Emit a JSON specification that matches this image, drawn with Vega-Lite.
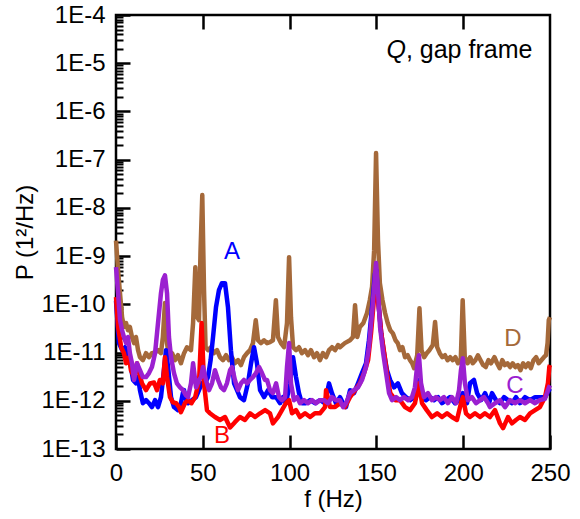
{
"$schema": "https://vega.github.io/schema/vega-lite/v6.json",
"width": 434, "height": 434,
"autosize": {"type": "none"},
"padding": {"left": 116, "top": 15, "right": 30, "bottom": 70},
"background": "white",
"config": {
 "view": {"stroke": "#000", "strokeWidth": 2.5},
 "axis": {"grid": false, "domain": false, "labelFont": "Liberation Sans", "titleFont": "Liberation Sans", "labelColor": "#000", "titleColor": "#000", "labelFontSize": 24, "titleFontSize": 24, "titleFontWeight": "normal"}
},
"data": {"values": [
{"series":"D","f":0,"P":2.1e-9},{"series":"D","f":1.2,"P":5.0e-10},{"series":"D","f":2.3,"P":1.7e-10},{"series":"D","f":3.5,"P":5.4e-11},{"series":"D","f":4.6,"P":3.4e-11},{"series":"D","f":5.8,"P":4.1e-11},{"series":"D","f":6.9,"P":2.9e-11},{"series":"D","f":8,"P":3.4e-11},{"series":"D","f":9.2,"P":2.1e-11},{"series":"D","f":10.4,"P":1.57e-11},{"series":"D","f":11.5,"P":2.1e-11},{"series":"D","f":12.7,"P":1.12e-11},{"series":"D","f":13.8,"P":8.0e-12},{"series":"D","f":15.5,"P":6.95e-12},{"series":"D","f":17.3,"P":9.7e-12},{"series":"D","f":19,"P":8.0e-12},{"series":"D","f":20.7,"P":9.7e-12},{"series":"D","f":22.5,"P":1.0e-11},{"series":"D","f":24.2,"P":1.12e-11},{"series":"D","f":25.9,"P":9.7e-12},{"series":"D","f":27,"P":2.1e-11},{"series":"D","f":28.2,"P":1.06e-10},{"series":"D","f":29.4,"P":1.57e-11},{"series":"D","f":30.5,"P":8.0e-12},{"series":"D","f":32.3,"P":9.7e-12},{"series":"D","f":34,"P":6.95e-12},{"series":"D","f":35.7,"P":8.8e-12},{"series":"D","f":37.4,"P":6.0e-12},{"series":"D","f":39.2,"P":9.7e-12},{"series":"D","f":40.9,"P":1.29e-11},{"series":"D","f":43.2,"P":1.12e-11},{"series":"D","f":44.4,"P":4.1e-11},{"series":"D","f":45.7,"P":5.9e-10},{"series":"D","f":46.8,"P":5.4e-11},{"series":"D","f":47.8,"P":4.7e-11},{"series":"D","f":48.7,"P":1.33e-9},{"series":"D","f":49.7,"P":1.85e-8},{"series":"D","f":50.7,"P":1.97e-10},{"series":"D","f":51.6,"P":1.29e-11},{"series":"D","f":53,"P":1.12e-11},{"series":"D","f":54.7,"P":1.29e-11},{"series":"D","f":56.4,"P":9.7e-12},{"series":"D","f":58.2,"P":1.12e-11},{"series":"D","f":59.9,"P":8.0e-12},{"series":"D","f":61.6,"P":6.95e-12},{"series":"D","f":63.4,"P":8.8e-12},{"series":"D","f":65.1,"P":6.95e-12},{"series":"D","f":66.8,"P":8.0e-12},{"series":"D","f":68.5,"P":6.0e-12},{"series":"D","f":70.3,"P":6.95e-12},{"series":"D","f":72,"P":5.5e-12},{"series":"D","f":73.7,"P":8.0e-12},{"series":"D","f":75.5,"P":9.7e-12},{"series":"D","f":77.2,"P":1.12e-11},{"series":"D","f":78.9,"P":1.57e-11},{"series":"D","f":80.5,"P":4.7e-11},{"series":"D","f":81.8,"P":1.8e-11},{"series":"D","f":83.5,"P":1.57e-11},{"series":"D","f":85.3,"P":1.8e-11},{"series":"D","f":87,"P":1.57e-11},{"series":"D","f":88.7,"P":1.65e-11},{"series":"D","f":90.4,"P":1.8e-11},{"series":"D","f":92.1,"P":1.22e-10},{"series":"D","f":93.3,"P":2.1e-11},{"series":"D","f":95,"P":1.57e-11},{"series":"D","f":96.8,"P":1.29e-11},{"series":"D","f":98.5,"P":4.1e-11},{"series":"D","f":99.7,"P":9.5e-10},{"series":"D","f":100.8,"P":5.4e-11},{"series":"D","f":102,"P":1.29e-11},{"series":"D","f":103.7,"P":1.12e-11},{"series":"D","f":105.4,"P":1.29e-11},{"series":"D","f":107.1,"P":9.7e-12},{"series":"D","f":108.9,"P":1.12e-11},{"series":"D","f":110.6,"P":8.8e-12},{"series":"D","f":112.3,"P":1.12e-11},{"series":"D","f":114.1,"P":8.0e-12},{"series":"D","f":115.8,"P":9.7e-12},{"series":"D","f":117.5,"P":6.95e-12},{"series":"D","f":119.2,"P":9.7e-12},{"series":"D","f":121,"P":8.0e-12},{"series":"D","f":122.7,"P":1.12e-11},{"series":"D","f":124.4,"P":1.29e-11},{"series":"D","f":126.2,"P":1.12e-11},{"series":"D","f":127.9,"P":1.43e-11},{"series":"D","f":129,"P":1.29e-11},{"series":"D","f":131.8,"P":1.57e-11},{"series":"D","f":134.8,"P":1.8e-11},{"series":"D","f":136.5,"P":2.1e-11},{"series":"D","f":137.7,"P":9.6e-11},{"series":"D","f":139,"P":2.1e-11},{"series":"D","f":140.5,"P":3.4e-11},{"series":"D","f":142.5,"P":4.1e-11},{"series":"D","f":144.6,"P":6.6e-11},{"series":"D","f":146.2,"P":1.22e-10},{"series":"D","f":147.5,"P":2.3e-10},{"series":"D","f":148.7,"P":1.33e-9},{"series":"D","f":149.8,"P":1.37e-7},{"series":"D","f":150.9,"P":2.15e-9},{"series":"D","f":152,"P":2.75e-10},{"series":"D","f":153.5,"P":1.22e-10},{"series":"D","f":155,"P":6.6e-11},{"series":"D","f":156.5,"P":4.1e-11},{"series":"D","f":158,"P":2.9e-11},{"series":"D","f":159.5,"P":2.5e-11},{"series":"D","f":161,"P":1.8e-11},{"series":"D","f":162.3,"P":1.57e-11},{"series":"D","f":163.6,"P":1.12e-11},{"series":"D","f":165,"P":1.29e-11},{"series":"D","f":166.5,"P":8.0e-12},{"series":"D","f":168,"P":8.8e-12},{"series":"D","f":169.4,"P":6.95e-12},{"series":"D","f":170.6,"P":6.0e-12},{"series":"D","f":171.7,"P":4.75e-12},{"series":"D","f":173.5,"P":8.8e-12},{"series":"D","f":174.8,"P":8.3e-11},{"series":"D","f":176,"P":1.12e-11},{"series":"D","f":177.5,"P":8.0e-12},{"series":"D","f":179,"P":9.7e-12},{"series":"D","f":180.5,"P":1.12e-11},{"series":"D","f":182.5,"P":1.43e-11},{"series":"D","f":183.8,"P":4.3e-11},{"series":"D","f":185,"P":1.29e-11},{"series":"D","f":186.5,"P":9.7e-12},{"series":"D","f":188,"P":8.0e-12},{"series":"D","f":189.5,"P":8.8e-12},{"series":"D","f":191,"P":6.95e-12},{"series":"D","f":192.5,"P":8.0e-12},{"series":"D","f":194,"P":6.95e-12},{"series":"D","f":195.5,"P":8.0e-12},{"series":"D","f":197,"P":6.0e-12},{"series":"D","f":198.6,"P":6.95e-12},{"series":"D","f":199.7,"P":1.22e-10},{"series":"D","f":200.9,"P":8.0e-12},{"series":"D","f":202.5,"P":6.0e-12},{"series":"D","f":204,"P":8.0e-12},{"series":"D","f":205.5,"P":6.0e-12},{"series":"D","f":207,"P":6.95e-12},{"series":"D","f":208.5,"P":8.8e-12},{"series":"D","f":210,"P":6.95e-12},{"series":"D","f":211.5,"P":5.5e-12},{"series":"D","f":213,"P":5.0e-12},{"series":"D","f":214.5,"P":6.95e-12},{"series":"D","f":216,"P":6.0e-12},{"series":"D","f":218,"P":8.0e-12},{"series":"D","f":219.5,"P":6.0e-12},{"series":"D","f":221,"P":4.75e-12},{"series":"D","f":222.5,"P":6.95e-12},{"series":"D","f":224,"P":5.5e-12},{"series":"D","f":225.5,"P":6.0e-12},{"series":"D","f":227,"P":5.0e-12},{"series":"D","f":228.5,"P":6.0e-12},{"series":"D","f":230,"P":5.0e-12},{"series":"D","f":231.5,"P":5.5e-12},{"series":"D","f":233,"P":4.3e-12},{"series":"D","f":234.5,"P":6.0e-12},{"series":"D","f":236,"P":5.0e-12},{"series":"D","f":237.5,"P":6.0e-12},{"series":"D","f":239,"P":4.75e-12},{"series":"D","f":240.5,"P":6.95e-12},{"series":"D","f":242,"P":8.0e-12},{"series":"D","f":243.5,"P":6.0e-12},{"series":"D","f":245,"P":6.95e-12},{"series":"D","f":246.5,"P":8.0e-12},{"series":"D","f":247.7,"P":8.8e-12},{"series":"D","f":248.6,"P":1.57e-11},{"series":"D","f":249.3,"P":4.7e-11},{"series":"D","f":250,"P":5.4e-11},
{"series":"A","f":0,"P":1.2e-10},{"series":"A","f":1.7,"P":1.57e-11},{"series":"A","f":3.5,"P":1.12e-11},{"series":"A","f":5.2,"P":1.29e-11},{"series":"A","f":6.3,"P":9.7e-12},{"series":"A","f":8,"P":6.95e-12},{"series":"A","f":9.8,"P":2.7e-12},{"series":"A","f":11.5,"P":2.3e-12},{"series":"A","f":12.7,"P":3.1e-12},{"series":"A","f":13.8,"P":1.66e-12},{"series":"A","f":15.5,"P":8.9e-13},{"series":"A","f":17.3,"P":1.03e-12},{"series":"A","f":19,"P":8.9e-13},{"series":"A","f":20.7,"P":7.4e-13},{"series":"A","f":22.5,"P":1.03e-12},{"series":"A","f":24.2,"P":7.4e-13},{"series":"A","f":25.9,"P":1.19e-12},{"series":"A","f":27.6,"P":4.3e-12},{"series":"A","f":28.8,"P":1.12e-11},{"series":"A","f":30,"P":5.0e-12},{"series":"A","f":31.7,"P":1.19e-12},{"series":"A","f":33.4,"P":7.4e-13},{"series":"A","f":35.7,"P":6.4e-13},{"series":"A","f":37.4,"P":8.9e-13},{"series":"A","f":38.5,"P":1.44e-12},{"series":"A","f":39.2,"P":1.66e-12},{"series":"A","f":40.5,"P":1.03e-12},{"series":"A","f":41.5,"P":8.9e-13},{"series":"A","f":43.8,"P":1.03e-12},{"series":"A","f":46.1,"P":1.19e-12},{"series":"A","f":47.8,"P":1.66e-12},{"series":"A","f":49.5,"P":2.3e-12},{"series":"A","f":51.3,"P":2.3e-12},{"series":"A","f":53,"P":3.1e-12},{"series":"A","f":54.5,"P":6.95e-12},{"series":"A","f":55.9,"P":2.1e-11},{"series":"A","f":57.6,"P":8.75e-11},{"series":"A","f":59.3,"P":1.97e-10},{"series":"A","f":61,"P":2.75e-10},{"series":"A","f":62.8,"P":2.75e-10},{"series":"A","f":64.5,"P":8.75e-11},{"series":"A","f":66.2,"P":1.12e-11},{"series":"A","f":68,"P":2.3e-12},{"series":"A","f":69.7,"P":1.66e-12},{"series":"A","f":71.4,"P":1.19e-12},{"series":"A","f":73.7,"P":1.03e-12},{"series":"A","f":76,"P":2.3e-12},{"series":"A","f":77.8,"P":6.0e-12},{"series":"A","f":79.5,"P":1.29e-11},{"series":"A","f":81.2,"P":6.0e-12},{"series":"A","f":83,"P":1.66e-12},{"series":"A","f":85.3,"P":1.19e-12},{"series":"A","f":87.6,"P":1.66e-12},{"series":"A","f":89.9,"P":1.19e-12},{"series":"A","f":92.2,"P":1.19e-12},{"series":"A","f":94.5,"P":8.9e-13},{"series":"A","f":96.2,"P":1.19e-12},{"series":"A","f":97.9,"P":8.9e-13},{"series":"A","f":100.2,"P":2.3e-12},{"series":"A","f":102,"P":8.0e-12},{"series":"A","f":103.7,"P":3.1e-12},{"series":"A","f":105.4,"P":1.44e-12},{"series":"A","f":107.1,"P":8.9e-13},{"series":"A","f":109.4,"P":8.9e-13},{"series":"A","f":111.8,"P":1.03e-12},{"series":"A","f":114.6,"P":8.9e-13},{"series":"A","f":117.5,"P":1.03e-12},{"series":"A","f":120.4,"P":8.9e-13},{"series":"A","f":122.7,"P":2.3e-12},{"series":"A","f":124.4,"P":1.44e-12},{"series":"A","f":126.7,"P":8.9e-13},{"series":"A","f":129,"P":1.19e-12},{"series":"A","f":130.8,"P":8.9e-13},{"series":"A","f":132.5,"P":7.4e-13},{"series":"A","f":134.8,"P":1.66e-12},{"series":"A","f":137.1,"P":1.44e-12},{"series":"A","f":139.4,"P":2.3e-12},{"series":"A","f":141.7,"P":3.75e-12},{"series":"A","f":144,"P":6.0e-12},{"series":"A","f":145.7,"P":1.8e-11},{"series":"A","f":147.5,"P":8.75e-11},{"series":"A","f":149.2,"P":4.4e-10},{"series":"A","f":150,"P":5.1e-10},{"series":"A","f":151,"P":1.22e-10},{"series":"A","f":152.8,"P":2.5e-11},{"series":"A","f":154.4,"P":9.7e-12},{"series":"A","f":156.1,"P":4.3e-12},{"series":"A","f":157.9,"P":2.7e-12},{"series":"A","f":160.2,"P":1.9e-12},{"series":"A","f":162.4,"P":2.3e-12},{"series":"A","f":164.7,"P":1.44e-12},{"series":"A","f":167,"P":1.19e-12},{"series":"A","f":169.4,"P":1.03e-12},{"series":"A","f":171.7,"P":1.19e-12},{"series":"A","f":172.8,"P":1.19e-12},{"series":"A","f":174.5,"P":2.7e-12},{"series":"A","f":176.3,"P":1.19e-12},{"series":"A","f":178.6,"P":1.03e-12},{"series":"A","f":180.9,"P":1.19e-12},{"series":"A","f":183.2,"P":1.03e-12},{"series":"A","f":185.5,"P":1.19e-12},{"series":"A","f":187.8,"P":8.9e-13},{"series":"A","f":190.1,"P":1.03e-12},{"series":"A","f":192.4,"P":1.19e-12},{"series":"A","f":195.3,"P":8.9e-13},{"series":"A","f":197.6,"P":1.03e-12},{"series":"A","f":199.8,"P":1.44e-12},{"series":"A","f":202.2,"P":8.9e-13},{"series":"A","f":203.9,"P":2.3e-12},{"series":"A","f":206.2,"P":2.7e-12},{"series":"A","f":208,"P":1.44e-12},{"series":"A","f":210.3,"P":1.03e-12},{"series":"A","f":212.6,"P":1.44e-12},{"series":"A","f":214.9,"P":8.9e-13},{"series":"A","f":216.6,"P":1.44e-12},{"series":"A","f":218.9,"P":1.03e-12},{"series":"A","f":221.2,"P":8.9e-13},{"series":"A","f":223.5,"P":1.19e-12},{"series":"A","f":225.8,"P":1.03e-12},{"series":"A","f":228.1,"P":8.9e-13},{"series":"A","f":230.4,"P":1.19e-12},{"series":"A","f":232.7,"P":8.9e-13},{"series":"A","f":235.6,"P":1.19e-12},{"series":"A","f":238.5,"P":1.03e-12},{"series":"A","f":241.4,"P":1.19e-12},{"series":"A","f":244.2,"P":1.19e-12},{"series":"A","f":247.1,"P":1.19e-12},{"series":"A","f":249.4,"P":1.66e-12},{"series":"A","f":250,"P":1.8e-12},
{"series":"B","f":0,"P":1.41e-10},{"series":"B","f":1.2,"P":3.4e-11},{"series":"B","f":3,"P":1.29e-11},{"series":"B","f":4.6,"P":9.7e-12},{"series":"B","f":5.8,"P":6.0e-12},{"series":"B","f":7.5,"P":8.0e-12},{"series":"B","f":8.6,"P":4.3e-12},{"series":"B","f":10.4,"P":3.1e-12},{"series":"B","f":12.1,"P":6.0e-12},{"series":"B","f":13.2,"P":3.9e-12},{"series":"B","f":15,"P":2.3e-12},{"series":"B","f":17.3,"P":1.66e-12},{"series":"B","f":19.6,"P":2.3e-12},{"series":"B","f":21.9,"P":2.4e-12},{"series":"B","f":23.6,"P":1.66e-12},{"series":"B","f":25.3,"P":2.7e-12},{"series":"B","f":27,"P":2.3e-12},{"series":"B","f":28.2,"P":8.0e-12},{"series":"B","f":29.4,"P":3.1e-12},{"series":"B","f":31.1,"P":1.19e-12},{"series":"B","f":32.8,"P":9.3e-13},{"series":"B","f":34.6,"P":8.9e-13},{"series":"B","f":36.3,"P":7.4e-13},{"series":"B","f":37.4,"P":5.8e-13},{"series":"B","f":39.7,"P":8.9e-13},{"series":"B","f":41.5,"P":1.03e-12},{"series":"B","f":43.5,"P":8.9e-13},{"series":"B","f":45.6,"P":1.19e-12},{"series":"B","f":47.9,"P":2.7e-12},{"series":"B","f":49.3,"P":4.1e-11},{"series":"B","f":50.7,"P":2.3e-12},{"series":"B","f":52.4,"P":6.4e-13},{"series":"B","f":54.1,"P":5.5e-13},{"series":"B","f":57,"P":4.6e-13},{"series":"B","f":59.9,"P":4.0e-13},{"series":"B","f":62.8,"P":4.6e-13},{"series":"B","f":65.7,"P":2.8e-13},{"series":"B","f":68.5,"P":3.6e-13},{"series":"B","f":71.4,"P":4.6e-13},{"series":"B","f":74.3,"P":4.0e-13},{"series":"B","f":77.2,"P":5.5e-13},{"series":"B","f":80.1,"P":4.6e-13},{"series":"B","f":83,"P":5.5e-13},{"series":"B","f":85.9,"P":6.4e-13},{"series":"B","f":88.7,"P":5.5e-13},{"series":"B","f":90.4,"P":3.4e-13},{"series":"B","f":93.3,"P":4.6e-13},{"series":"B","f":95.6,"P":6.4e-13},{"series":"B","f":97.9,"P":8.9e-13},{"series":"B","f":99.7,"P":1.03e-12},{"series":"B","f":101.4,"P":5.5e-13},{"series":"B","f":103.7,"P":6.4e-13},{"series":"B","f":106,"P":4.6e-13},{"series":"B","f":108.9,"P":5.5e-13},{"series":"B","f":111.8,"P":4.6e-13},{"series":"B","f":114.6,"P":5.5e-13},{"series":"B","f":117.5,"P":5.5e-13},{"series":"B","f":120.4,"P":7.4e-13},{"series":"B","f":121,"P":1.66e-12},{"series":"B","f":123.3,"P":7.4e-13},{"series":"B","f":126.2,"P":7.4e-13},{"series":"B","f":129,"P":8.9e-13},{"series":"B","f":131.8,"P":7.4e-13},{"series":"B","f":134.8,"P":1.19e-12},{"series":"B","f":137.7,"P":1.66e-12},{"series":"B","f":140.5,"P":2.3e-12},{"series":"B","f":142.9,"P":3.75e-12},{"series":"B","f":145.2,"P":6.95e-12},{"series":"B","f":146.9,"P":2.5e-11},{"series":"B","f":148.7,"P":1.41e-10},{"series":"B","f":149.8,"P":4.4e-10},{"series":"B","f":151,"P":1.22e-10},{"series":"B","f":152.8,"P":2.5e-11},{"series":"B","f":154.5,"P":9.7e-12},{"series":"B","f":156.1,"P":3.75e-12},{"series":"B","f":158,"P":1.44e-12},{"series":"B","f":161,"P":1.03e-12},{"series":"B","f":163.6,"P":1.03e-12},{"series":"B","f":166.5,"P":7.4e-13},{"series":"B","f":169.4,"P":6.4e-13},{"series":"B","f":172.2,"P":8.9e-13},{"series":"B","f":174.5,"P":2.3e-12},{"series":"B","f":176.3,"P":8.9e-13},{"series":"B","f":179,"P":6.4e-13},{"series":"B","f":182,"P":4.6e-13},{"series":"B","f":185,"P":5.5e-13},{"series":"B","f":187.8,"P":4.6e-13},{"series":"B","f":190.7,"P":5.5e-13},{"series":"B","f":193.5,"P":4.6e-13},{"series":"B","f":196.4,"P":4.0e-13},{"series":"B","f":198.7,"P":8.9e-13},{"series":"B","f":199.8,"P":1.19e-12},{"series":"B","f":201.6,"P":5.5e-13},{"series":"B","f":203.9,"P":4.6e-13},{"series":"B","f":206.8,"P":5.5e-13},{"series":"B","f":209.7,"P":4.6e-13},{"series":"B","f":212.5,"P":5.5e-13},{"series":"B","f":215.4,"P":4.6e-13},{"series":"B","f":218.3,"P":6.4e-13},{"series":"B","f":221.2,"P":3.4e-13},{"series":"B","f":223,"P":2.7e-13},{"series":"B","f":225.8,"P":4.6e-13},{"series":"B","f":228.1,"P":3.4e-13},{"series":"B","f":230.4,"P":4.0e-13},{"series":"B","f":232.7,"P":4.6e-13},{"series":"B","f":235.6,"P":4.0e-13},{"series":"B","f":238.5,"P":5.5e-13},{"series":"B","f":241.4,"P":6.4e-13},{"series":"B","f":244.2,"P":7.4e-13},{"series":"B","f":247.1,"P":1.19e-12},{"series":"B","f":248.8,"P":2.3e-12},{"series":"B","f":249.6,"P":5.0e-12},{"series":"B","f":250,"P":5.5e-12},
{"series":"C","f":0,"P":5.9e-10},{"series":"C","f":1.2,"P":1.7e-10},{"series":"C","f":2.3,"P":4.7e-11},{"series":"C","f":3.5,"P":2.9e-11},{"series":"C","f":4.6,"P":2.1e-11},{"series":"C","f":5.8,"P":1.57e-11},{"series":"C","f":6.9,"P":2.1e-11},{"series":"C","f":8,"P":9.7e-12},{"series":"C","f":9.2,"P":6.0e-12},{"series":"C","f":10.4,"P":2.7e-12},{"series":"C","f":12.1,"P":6.0e-12},{"series":"C","f":13.8,"P":4.3e-12},{"series":"C","f":15.5,"P":3.1e-12},{"series":"C","f":17.3,"P":3.1e-12},{"series":"C","f":19,"P":3.75e-12},{"series":"C","f":20.7,"P":5.0e-12},{"series":"C","f":22.5,"P":9.7e-12},{"series":"C","f":24.2,"P":4.1e-11},{"series":"C","f":25.9,"P":1.7e-10},{"series":"C","f":27,"P":3.2e-10},{"series":"C","f":28.2,"P":4.0e-10},{"series":"C","f":29.4,"P":1.7e-10},{"series":"C","f":30.5,"P":2.1e-11},{"series":"C","f":31.7,"P":8.0e-12},{"series":"C","f":33.4,"P":3.75e-12},{"series":"C","f":35.1,"P":2.3e-12},{"series":"C","f":36.9,"P":1.9e-12},{"series":"C","f":38.6,"P":1.66e-12},{"series":"C","f":40.3,"P":1.3e-12},{"series":"C","f":41.5,"P":1.19e-12},{"series":"C","f":43.2,"P":2.3e-12},{"series":"C","f":44.4,"P":6.0e-12},{"series":"C","f":46.1,"P":1.9e-12},{"series":"C","f":47.8,"P":2.7e-12},{"series":"C","f":49,"P":3.1e-12},{"series":"C","f":50.1,"P":5.0e-12},{"series":"C","f":51.8,"P":2.7e-12},{"series":"C","f":53.6,"P":1.66e-12},{"series":"C","f":55.3,"P":2.3e-12},{"series":"C","f":57,"P":4.3e-12},{"series":"C","f":58.8,"P":2.7e-12},{"series":"C","f":60.5,"P":1.9e-12},{"series":"C","f":62.2,"P":1.66e-12},{"series":"C","f":63.9,"P":2.3e-12},{"series":"C","f":65.7,"P":4.3e-12},{"series":"C","f":66.8,"P":5.0e-12},{"series":"C","f":68.5,"P":2.7e-12},{"series":"C","f":70.3,"P":1.66e-12},{"series":"C","f":72,"P":2.3e-12},{"series":"C","f":73.7,"P":2.7e-12},{"series":"C","f":75.5,"P":2.3e-12},{"series":"C","f":77.2,"P":2.7e-12},{"series":"C","f":78.9,"P":3.1e-12},{"series":"C","f":80.6,"P":3.75e-12},{"series":"C","f":82.4,"P":5.0e-12},{"series":"C","f":84.1,"P":3.75e-12},{"series":"C","f":85.8,"P":2.7e-12},{"series":"C","f":87,"P":2.7e-12},{"series":"C","f":88.7,"P":1.66e-12},{"series":"C","f":90.4,"P":1.44e-12},{"series":"C","f":92.2,"P":2.3e-12},{"series":"C","f":93.9,"P":1.19e-12},{"series":"C","f":95.6,"P":1.03e-12},{"series":"C","f":97.4,"P":1.19e-12},{"series":"C","f":98.5,"P":5.0e-12},{"series":"C","f":99.7,"P":1.57e-11},{"series":"C","f":100.8,"P":2.3e-12},{"series":"C","f":102.5,"P":1.03e-12},{"series":"C","f":104.3,"P":1.19e-12},{"series":"C","f":106,"P":8.9e-13},{"series":"C","f":108.3,"P":1.03e-12},{"series":"C","f":110.6,"P":8.9e-13},{"series":"C","f":112.9,"P":1.03e-12},{"series":"C","f":115.2,"P":8.9e-13},{"series":"C","f":117.5,"P":1.03e-12},{"series":"C","f":119.8,"P":1.03e-12},{"series":"C","f":122.1,"P":8.9e-13},{"series":"C","f":124.4,"P":1.19e-12},{"series":"C","f":126.7,"P":1.03e-12},{"series":"C","f":129,"P":1.03e-12},{"series":"C","f":130.8,"P":7.4e-13},{"series":"C","f":132.5,"P":8.9e-13},{"series":"C","f":134.8,"P":1.44e-12},{"series":"C","f":137.1,"P":1.66e-12},{"series":"C","f":139.4,"P":1.9e-12},{"series":"C","f":141.7,"P":2.7e-12},{"series":"C","f":144,"P":5.0e-12},{"series":"C","f":145.7,"P":1.29e-11},{"series":"C","f":147.5,"P":6.6e-11},{"series":"C","f":148.7,"P":2.3e-10},{"series":"C","f":149.8,"P":7.2e-10},{"series":"C","f":151,"P":1.7e-10},{"series":"C","f":152.1,"P":3.4e-11},{"series":"C","f":153.9,"P":9.7e-12},{"series":"C","f":155.6,"P":3.75e-12},{"series":"C","f":157.3,"P":1.44e-12},{"series":"C","f":159,"P":1.03e-12},{"series":"C","f":161.3,"P":1.19e-12},{"series":"C","f":163.6,"P":1.03e-12},{"series":"C","f":165.9,"P":1.19e-12},{"series":"C","f":168.2,"P":1.03e-12},{"series":"C","f":170.5,"P":1.19e-12},{"series":"C","f":172.2,"P":1.9e-12},{"series":"C","f":173.4,"P":5.0e-12},{"series":"C","f":174.5,"P":8.8e-12},{"series":"C","f":175.7,"P":2.3e-12},{"series":"C","f":177.4,"P":1.19e-12},{"series":"C","f":179.7,"P":1.44e-12},{"series":"C","f":182,"P":1.03e-12},{"series":"C","f":184.3,"P":1.19e-12},{"series":"C","f":186.6,"P":1.03e-12},{"series":"C","f":188.9,"P":1.19e-12},{"series":"C","f":191.2,"P":8.9e-13},{"series":"C","f":193.5,"P":1.19e-12},{"series":"C","f":195.9,"P":8.9e-13},{"series":"C","f":197.6,"P":1.66e-12},{"series":"C","f":198.7,"P":4.3e-12},{"series":"C","f":199.8,"P":7.65e-12},{"series":"C","f":201,"P":2.3e-12},{"series":"C","f":202.7,"P":1.03e-12},{"series":"C","f":205,"P":1.19e-12},{"series":"C","f":207.4,"P":8.9e-13},{"series":"C","f":209.7,"P":1.03e-12},{"series":"C","f":212,"P":1.19e-12},{"series":"C","f":214.3,"P":8.9e-13},{"series":"C","f":215.4,"P":7.4e-13},{"series":"C","f":218.3,"P":8.9e-13},{"series":"C","f":221.2,"P":1.03e-12},{"series":"C","f":224.1,"P":7.4e-13},{"series":"C","f":227,"P":1.03e-12},{"series":"C","f":229.8,"P":8.9e-13},{"series":"C","f":232.7,"P":1.03e-12},{"series":"C","f":235.6,"P":8.9e-13},{"series":"C","f":238.5,"P":1.03e-12},{"series":"C","f":241.4,"P":8.9e-13},{"series":"C","f":244.2,"P":1.03e-12},{"series":"C","f":247.1,"P":1.1e-12},{"series":"C","f":249.4,"P":1.9e-12},{"series":"C","f":250,"P":2.1e-12}
]},
"encoding": {
 "x": {"field": "f", "type": "quantitative", "scale": {"domain": [0, 250], "nice": false, "zero": false}, "axis": null},
 "y": {"field": "P", "type": "quantitative", "scale": {"type": "log", "domain": [1e-13, 1e-4], "nice": false}, "axis": null}
},
"layer": [
 {"transform": [{"filter": "datum.series === 'D'"}],
  "mark": {"type": "line", "strokeWidth": 4.5, "strokeJoin": "round", "color": "#a5693a"},
  "encoding": {
   "x": {"field": "f", "type": "quantitative", "scale": {"domain": [0, 250], "nice": false, "zero": false},
    "axis": {"orient": "bottom", "values": [0,50,100,150,200,250], "tickSize": -14, "tickWidth": 2.5, "tickColor": "#000", "labelPadding": 26, "labelFlush": false,
     "title": "f (Hz)", "titlePadding": 2}},
   "y": {"field": "P", "type": "quantitative", "scale": {"type": "log", "domain": [1e-13, 1e-4], "nice": false},
    "axis": {"orient": "left", "values": [1e-13,1e-12,1e-11,1e-10,1e-9,1e-8,1e-7,1e-6,1e-5,1e-4],
     "labelExpr": "'1E' + round(log(datum.value)/LN10)", "labelPadding": 25,
     "tickSize": -14, "tickWidth": 2.5, "tickColor": "#000",
     "title": "P (1²/Hz)", "titlePadding": 3}}
  }},
 {"transform": [{"filter": "datum.series === 'A'"}],
  "mark": {"type": "line", "strokeWidth": 4.5, "strokeJoin": "round", "color": "#0000ff"},
  "encoding": {
   "y": {"field": "P", "type": "quantitative", "scale": {"type": "log", "domain": [1e-13, 1e-4], "nice": false},
    "axis": {"orient": "left", "labels": false, "title": null, "tickSize": -7, "tickWidth": 2, "tickColor": "#000",
     "values": [2e-13,3e-13,4e-13,5e-13,6e-13,7e-13,8e-13,9e-13,2e-12,3e-12,4e-12,5e-12,6e-12,7e-12,8e-12,9e-12,2e-11,3e-11,4e-11,5e-11,6e-11,7e-11,8e-11,9e-11,2e-10,3e-10,4e-10,5e-10,6e-10,7e-10,8e-10,9e-10,2e-9,3e-9,4e-9,5e-9,6e-9,7e-9,8e-9,9e-9,2e-8,3e-8,4e-8,5e-8,6e-8,7e-8,8e-8,9e-8,2e-7,3e-7,4e-7,5e-7,6e-7,7e-7,8e-7,9e-7,2e-6,3e-6,4e-6,5e-6,6e-6,7e-6,8e-6,9e-6,2e-5,3e-5,4e-5,5e-5,6e-5,7e-5,8e-5,9e-5]}}
  }},
 {"transform": [{"filter": "datum.series === 'B'"}],
  "mark": {"type": "line", "strokeWidth": 4.5, "strokeJoin": "round", "color": "#ff0000"}},
 {"transform": [{"filter": "datum.series === 'C'"}],
  "mark": {"type": "line", "strokeWidth": 4.5, "strokeJoin": "round", "color": "#9b20d0"},
  "encoding": {
   "x": {"field": "f", "type": "quantitative", "scale": {"domain": [0, 250], "nice": false, "zero": false},
    "axis": {"orient": "top", "values": [50,100,150,200], "labels": false, "tickSize": -14, "tickWidth": 2.5, "tickColor": "#000", "title": null}}
  }},
 {"data": {"values": [{"label":"A","f":66.8,"P":1.2e-9}]},
  "mark": {"type": "text", "fontSize": 24, "align": "center", "baseline": "middle", "font": "Liberation Sans", "color": "#0000ff"},
  "encoding": {"text": {"field": "label"}}},
 {"data": {"values": [{"label":"B","f":61,"P":1.86e-13}]},
  "mark": {"type": "text", "fontSize": 24, "align": "center", "baseline": "middle", "font": "Liberation Sans", "color": "#ff0000"},
  "encoding": {"text": {"field": "label"}}},
 {"data": {"values": [{"label":"C","f":229.8,"P":2.0e-12}]},
  "mark": {"type": "text", "fontSize": 24, "align": "center", "baseline": "middle", "font": "Liberation Sans", "color": "#9b20d0"},
  "encoding": {"text": {"field": "label"}}},
 {"data": {"values": [{"label":"D","f":228.7,"P":1.9e-11}]},
  "mark": {"type": "text", "fontSize": 24, "align": "center", "baseline": "middle", "font": "Liberation Sans", "color": "#a5693a"},
  "encoding": {"text": {"field": "label"}}},
 {"data": {"values": [{"part":"Q","f":167,"P":1.28e-5}]},
  "mark": {"type": "text", "fontSize": 25, "align": "right", "baseline": "alphabetic", "fontStyle": "italic", "font": "Liberation Sans", "color": "#000"},
  "encoding": {"text": {"field": "part"}}},
 {"data": {"values": [{"part":", gap frame","f":167,"P":1.28e-5}]},
  "mark": {"type": "text", "fontSize": 25, "align": "left", "baseline": "alphabetic", "font": "Liberation Sans", "color": "#000"},
  "encoding": {"text": {"field": "part"}}}
],
"resolve": {"axis": {"x": "independent", "y": "independent"}}
}
